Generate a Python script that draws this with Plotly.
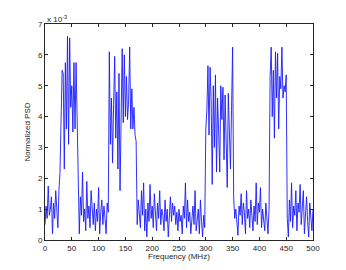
import numpy as np
import plotly.graph_objects as go

# Normalized PSD values (units of 1e-3), 2 MHz spacing, 0..500 MHz
seg_low_a = [0.5, 1.1, 0.7, 1.75, 0.8, 1.0, 1.4, 0.2, 1.2, 0.7, 1.6, 0.8, 0.4, 1.6, 2.2]
seg_band_1 = [3.9, 5.5, 5.4, 2.3, 5.75, 3.6, 6.6, 3.1, 6.55, 4.3, 5.0, 3.5, 5.75, 3.6, 5.75, 4.0]
seg_low_b = [1.5, 0.2, 1.4, 0.8, 2.2, 0.6, 1.0, 0.3, 1.9, 0.7, 1.1, 0.4, 1.6, 0.9, 0.5,
             1.2, 0.3, 1.0, 0.6, 1.7, 0.2, 0.9, 1.3, 0.5, 1.1, 0.7, 0.2, 1.2, 0.9]
seg_band_2 = [6.1, 3.1, 4.6, 2.5, 4.4, 5.95, 3.3, 4.8, 2.3, 5.4, 1.6, 4.5, 6.2, 3.8, 6.0,
              4.0, 5.3, 3.9, 4.5, 6.25, 3.6, 4.9, 3.6, 4.3, 3.4, 3.2]
seg_low_c = [0.5, 1.3, 0.9, 0.4, 1.6, 0.8, 1.85, 0.3, 1.0, 0.1,
             1.2, 0.6, 1.8, 0.7, 1.1, 0.4, 1.5, 0.9, 0.3, 1.2,
             0.7, 1.6, 0.5, 1.0, 0.8, 0.3, 1.3, 0.6, 1.0, 0.1,
             0.9, 1.4, 0.6, 1.2, 0.8, 1.1, 0.5, 0.9, 0.3, 1.0,
             0.6, 0.8, 0.2, 1.1, 0.7, 1.85, 0.4, 1.3, 0.6, 0.9,
             0.2, 0.8, 1.1, 0.5, 1.6, 0.3, 0.7, 1.0, 0.2, 1.3,
             0.6, 0.1, 0.8, 0.4]
seg_band_3 = [3.6, 4.2, 5.65, 3.4, 5.6, 4.5, 1.8, 5.0, 3.0, 5.35,
              2.2, 4.6, 3.5, 2.2, 5.0, 3.9, 4.95, 2.6, 4.7, 3.2,
              1.7, 4.75, 3.6, 2.3, 4.2, 6.25]
seg_low_d = [1.4, 0.7, 1.0, 0.6, 0.15, 1.1, 0.8, 1.5, 0.5, 1.2,
             0.9, 0.2, 1.6, 0.7, 1.0, 0.4, 1.3, 0.8, 0.3, 1.1,
             0.6, 1.85, 0.5, 1.2, 0.9, 1.7, 0.4, 1.0, 0.7, 0.3,
             1.2, 0.8, 0.2, 1.0]
seg_band_4 = [5.3, 6.25, 4.0, 5.5, 3.3, 6.1, 4.6, 6.05, 3.6, 5.3, 4.9, 6.25, 4.6, 5.0, 4.8, 5.35]
seg_low_e = [0.7, 0.1, 1.3, 0.6, 1.85, 0.4, 1.1, 0.8, 1.6, 0.3,
             1.2, 0.9, 1.8, 0.5, 1.0, 1.6, 0.2, 0.9, 1.4, 0.6,
             0.1, 1.2, 0.8, 0.3, 1.0]

psd = (seg_low_a + seg_band_1 + seg_low_b + seg_band_2 + seg_low_c +
       seg_band_3 + seg_low_d + seg_band_4 + seg_low_e)
freq = [2 * i for i in range(len(psd))]

x_ticks = [0, 50, 100, 150, 200, 250, 300, 350, 400, 450, 500]
y_ticks = [0, 1, 2, 3, 4, 5, 6, 7]

fig = go.Figure()
fig.add_trace(go.Scatter(x=freq, y=psd, mode="lines",
                         line=dict(color="#1a1aff", width=0.9), showlegend=False))

font = dict(family="Liberation Sans, Arial, sans-serif", size=8, color="#262626")
axis_common = dict(showline=True, linecolor="#262626", linewidth=1, mirror="allticks",
                   ticks="inside", ticklen=3, tickcolor="#262626", showgrid=False,
                   zeroline=False, tickfont=font)
fig.update_xaxes(range=[0, 500], tickvals=x_ticks, **axis_common)
fig.update_yaxes(range=[0, 7], tickvals=y_ticks, **axis_common,
                 title=dict(text="Normalized PSD", font=font, standoff=6))
fig.add_annotation(x=0.5, y=0, xref="paper", yref="paper", xanchor="center", yanchor="top",
                   text="Frequency (MHz)", showarrow=False, font=font, yshift=-10)
fig.add_annotation(x=0, y=1, xref="paper", yref="paper", xanchor="left", yanchor="bottom",
                   text="x 10<sup>-3</sup>", showarrow=False, font=font, yshift=-2)
# page body has an 8px default margin, so the figure is offset by 8px
fig.update_layout(width=338, height=262, margin=dict(l=37, r=33, t=12, b=30),
                  plot_bgcolor="white", paper_bgcolor="white")
fig.write_html("out.html")
